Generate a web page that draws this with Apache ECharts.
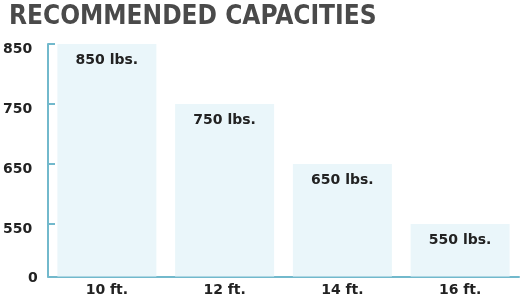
<!DOCTYPE html>
<html>
<head>
<meta charset="utf-8">
<script src="https://cdn.jsdelivr.net/npm/echarts@6/dist/echarts.min.js"></script>
<style>html,body{margin:0;padding:0;background:#fff}#c{width:521px;height:300px}</style>
</head>
<body>
<div id="c"></div>
<script>
var titleText = 'RECOMMENDED CAPACITIES';
var categories = ['10 ft.', '12 ft.', '14 ft.', '16 ft.'];
var capacities = [850, 750, 650, 550];
var yTickValues = [0, 550, 650, 750, 850];
var unit = ' lbs.';

var axisColor = '#72b9cc';
var chart = echarts.init(document.getElementById('c'));
chart.setOption({
  animation: false,
  backgroundColor: '#ffffff',
  title: {
    text: titleText,
    left: 4,
    top: -1,
    textStyle: {
      fontFamily: '"DejaVu Sans Condensed", "Liberation Sans Narrow", "DejaVu Sans", sans-serif',
      fontWeight: 'bold',
      fontSize: 26,
      color: '#4a4a4a'
    }
  },
  grid: { left: 48, right: 2, top: 44, bottom: 23.5, containLabel: false },
  xAxis: {
    type: 'category',
    data: categories,
    axisLine: { lineStyle: { color: axisColor, width: 2 } },
    axisTick: { show: false },
    axisLabel: {
      margin: 7,
      fontFamily: '"DejaVu Sans", sans-serif',
      fontWeight: 'bold',
      fontSize: 14,
      color: '#222'
    }
  },
  yAxis: [{
    type: 'value',
    min: 0,
    max: 850,
    breaks: [{ start: 20, end: 520, gap: '9.68%' }],
    breakArea: { show: false, itemStyle: { opacity: 0 }, zigzagAmplitude: 0 },
    splitLine: { show: false },
    axisLine: { show: false },
    axisTick: {
      show: true,
      inside: true,
      length: 7,
      customValues: yTickValues,
      lineStyle: { color: axisColor, width: 2 }
    },
    axisLabel: {
      customValues: yTickValues,
      align: 'left',
      margin: 45,
      fontFamily: '"DejaVu Sans", sans-serif',
      fontWeight: 'bold',
      fontSize: 14,
      color: '#222',
      formatter: function (v) {
        return v === 0 ? '{z|0}' : '{a|' + v + '}';
      },
      rich: {
        a: { padding: [10, 0, 0, 0], fontFamily: '"DejaVu Sans", sans-serif', fontWeight: 'bold', fontSize: 14, color: '#222' },
        z: { padding: [3, 0, 0, 25], fontFamily: '"DejaVu Sans", sans-serif', fontWeight: 'bold', fontSize: 14, color: '#222' }
      }
    }
  }, {
    type: 'value',
    position: 'left',
    min: 0,
    max: 1,
    splitLine: { show: false },
    axisLine: { show: true, lineStyle: { color: axisColor, width: 2 } },
    axisTick: { show: false },
    axisLabel: { show: false }
  }],
  series: [{
    type: 'bar',
    data: capacities,
    barWidth: 99,
    itemStyle: { color: '#eaf6fa' },
    label: {
      show: true,
      position: 'insideTop',
      distance: 9,
      formatter: function (p) { return p.value + unit; },
      fontFamily: '"DejaVu Sans", sans-serif',
      fontWeight: 'bold',
      fontSize: 14,
      color: '#222'
    }
  }]
});
</script>
</body>
</html>
